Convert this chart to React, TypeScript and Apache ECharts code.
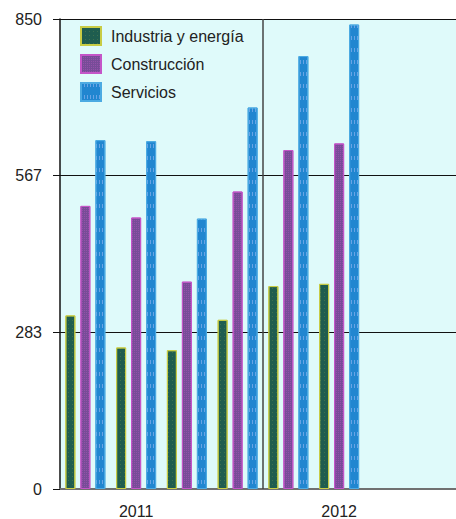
import React, { useEffect, useRef } from "react";
import * as echarts from "echarts";

const categories = ["", "2011", "", "", "", "2012", "", ""];
const seriesNames = ["Industria y energía", "Construcción", "Servicios"];
const industria = [314, 256, 251, 306, 367, 371, null, null];
const construccion = [512, 491, 375, 538, 613, 625, null, null];
const servicios = [631, 629, 489, 690, 783, 840, null, null];
const yMax = 850;
const dividerAt = 4;

export default function App() {
  const ref = useRef<HTMLDivElement>(null);
  useEffect(() => {
    if (!ref.current) return;
    const chart = echarts.init(ref.current, undefined, { renderer: "svg" });
    const font = "Liberation Sans, Arial, sans-serif";
    const mk = (name: string, data: any[], color: string, border: string, decal: any) => ({
      name,
      type: "bar",
      data,
      barWidth: 10,
      barGap: "50%",
      itemStyle: { color, borderColor: border, borderWidth: 1, decal },
    });
    chart.setOption({
      animation: false,
      grid: {
        left: 60,
        right: 0,
        top: 19,
        bottom: 30,
        show: true,
        backgroundColor: "#dffafa",
        borderWidth: 0,
      },
      legend: {
        orient: "vertical",
        left: 80,
        top: 26,
        padding: 0,
        icon: "rect",
        itemWidth: 20,
        itemHeight: 18,
        itemGap: 8,
        textStyle: {
          fontFamily: font,
          fontSize: 16,
          color: "#222",
          padding: [0, 0, 0, 5],
        },
        data: seriesNames,
      },
      xAxis: [
        {
          type: "category",
          data: categories,
          boundaryGap: true,
          axisLine: { lineStyle: { color: "#707070", width: 2 } },
          axisTick: { show: false },
          axisLabel: {
            interval: 0,
            fontFamily: font,
            fontSize: 16,
            color: "#222",
            margin: 14,
          },
          splitLine: { show: false },
        },
        {
          type: "value",
          min: 0,
          max: categories.length,
          show: false,
        },
      ],
      yAxis: {
        type: "value",
        min: 0,
        max: yMax,
        interval: yMax / 3,
        axisLine: { show: true, lineStyle: { color: "#111", width: 1.5 } },
        axisTick: { show: true, length: 7, lineStyle: { color: "#111" } },
        axisLabel: {
          fontFamily: font,
          fontSize: 16,
          color: "#222",
          margin: 18,
          formatter: (v: number) => String(Math.round(v)),
        },
        splitLine: { show: true, lineStyle: { color: "#111", width: 1 } },
      },
      series: [
        mk(seriesNames[0], industria, "#1f5d4f", "#c8cc44", {
          symbol: "rect",
          symbolSize: 0.6,
          color: "rgba(200,200,70,0.6)",
          dashArrayX: [1, 3],
          dashArrayY: [1, 3],
        }),
        mk(seriesNames[1], construccion, "#774c98", "#c455c8", {
          symbol: "rect",
          symbolSize: 1,
          color: "rgba(200,90,200,0.35)",
          dashArrayX: [1, 1],
          dashArrayY: [1, 1],
        }),
        mk(seriesNames[2], servicios, "#2186d0", "#4caae2", {
          symbol: "rect",
          symbolSize: 1,
          color: "rgba(190,200,255,0.45)",
          dashArrayX: [1, 2],
          dashArrayY: [4, 8],
        }),
        {
          name: "divider",
          type: "scatter",
          xAxisIndex: 1,
          data: [[dividerAt, 0]],
          symbolSize: 0,
          silent: true,
          markLine: {
            silent: true,
            symbol: "none",
            label: { show: false },
            lineStyle: { color: "#444", width: 1.5, type: "solid" },
            data: [{ xAxis: dividerAt }],
          },
        },
      ],
    });
    return () => chart.dispose();
  }, []);
  return (
    <div style={{ position: "absolute", left: 0, top: 0, width: 456, height: 519, overflow: "hidden" }}>
      <div ref={ref} style={{ width: 466, height: 519 }} />
    </div>
  );
}
